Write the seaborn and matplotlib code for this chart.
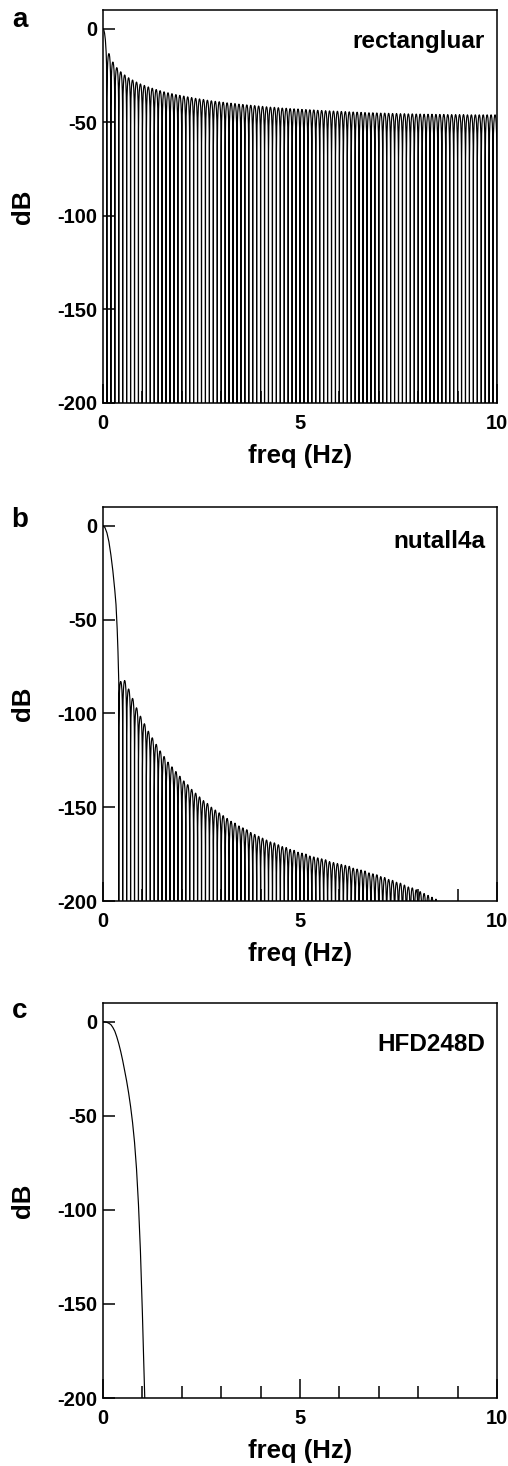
import numpy as np
import pandas as pd
import matplotlib
matplotlib.use("Agg")
import matplotlib.pyplot as plt
import seaborn as sns
from matplotlib.ticker import MultipleLocator

# ---------------- data ----------------
panel_letters = ["a", "b", "c"]
window_names = ["rectangluar", "nutall4a", "HFD248D"]
x_major_ticks = [0, 5, 10]
y_ticks = [0, -50, -100, -150, -200]
y_tick_labels = ["0", "-50", "-100", "-150", "-200"]

lobe_spacing_hz = 0.1  # spacing between sidelobes (Hz)

# (a) rectangular window
rect_main_f = [0.0, 0.02, 0.04, 0.06, 0.08, 0.09, 0.10]
rect_main_db = [0.0, -0.6, -2.4, -5.9, -12.6, -19.2, -240.0]
rect_first_lobe_hz = 0.15
rect_peaks_db = [
    -13.3, -17.8, -20.8, -23.0, -24.7, -26.2, -27.4, -28.5, -29.5, -30.3,
    -31.1, -31.8, -32.5, -33.1, -33.7, -34.2, -34.7, -35.2, -35.6, -36.0,
    -36.4, -36.8, -37.2, -37.5, -37.8, -38.2, -38.5, -38.8, -39.0, -39.3,
    -39.6, -39.8, -40.0, -40.3, -40.5, -40.7, -40.9, -41.1, -41.3, -41.5,
    -41.7, -41.9, -42.0, -42.2, -42.4, -42.5, -42.7, -42.8, -42.9,
    -43.1, -43.2, -43.3, -43.4, -43.6, -43.7, -43.8, -43.9, -44.0, -44.1,
    -44.2, -44.3, -44.4, -44.5, -44.6, -44.7, -44.8, -44.9, -44.9, -45.0,
    -45.1, -45.1, -45.2, -45.3, -45.3, -45.4, -45.4, -45.5, -45.5, -45.6,
    -45.6, -45.7, -45.7, -45.7, -45.8, -45.8, -45.8, -45.9, -45.9, -45.9,
    -45.9, -45.9, -46.0, -46.0, -46.0, -46.0, -46.0, -46.0, -46.0, -46.0,
]

# (b) nutall4a window
nut_main_f = [0.0, 0.05, 0.10, 0.15, 0.20, 0.25, 0.30, 0.33, 0.36, 0.38, 0.40]
nut_main_db = [0.0, -1.0, -3.8, -8.5, -15.5, -24.0, -34.5, -42.0, -55.0, -67.0, -83.0]
nut_first_lobe_hz = 0.45
nut_peaks_db = [
    -83, -82.5, -87, -92, -97, -101.5, -105.5, -109.5, -113, -116.5,
    -120, -123, -126, -128.5, -131, -133.5, -136, -138, -140.5, -142.5,
    -144.5, -146.5, -148, -150, -151.5, -153, -154.5, -156, -157.5, -158.5,
    -160, -161, -162, -163.5, -164.5, -165.5, -166.5, -167.5, -168.5, -169,
    -170, -171, -171.5, -172.5, -173, -174, -174.5, -175, -176, -176.5,
    -177, -177.5, -178, -179, -179.5, -180, -180.5, -181, -181.5, -182.5,
    -183, -183.5, -184, -185, -185.5, -186, -187, -187.5, -188.5, -189,
    -190, -190.5, -191.5, -192.5, -193, -194, -195, -196, -197, -198,
    -199,
]

# (c) HFD248D window (sidelobes below -200 dB, not visible)
hfd_main_f = [0.0, 0.05, 0.10, 0.15, 0.20, 0.25, 0.30, 0.35, 0.40, 0.45, 0.50,
              0.55, 0.60, 0.65, 0.70, 0.75, 0.80, 0.85, 0.90, 0.95, 1.00, 1.03, 1.06]
hfd_main_db = [0.0, -0.05, -0.3, -0.8, -1.5, -3.0, -5.0, -8.0, -11.6, -15.8, -20.6,
               -26.0, -31.5, -37.8, -45.0, -53.5, -64.0, -78.0, -97.0, -122.0, -155.0,
               -178.0, -200.0]

# ---------------- style constants ----------------
NULL_DB = -240.0
LOBE_T = [-0.5, -0.48, -0.45, -0.4, -0.3, -0.2, -0.1, 0.0, 0.1, 0.2, 0.3, 0.4, 0.45, 0.48]
LOBE_SHAPE_DB = [None, -24.0, -16.1, -10.2, -4.6, -1.8, -0.4, 0.0, -0.4, -1.8, -4.6, -10.2, -16.1, -24.0]


def build_spectrum(main_f, main_db, first_lobe, peaks):
    xs = list(main_f)
    ys = list(main_db)
    for k, p in enumerate(peaks):
        c = first_lobe + k * lobe_spacing_hz
        for t, d in zip(LOBE_T, LOBE_SHAPE_DB):
            xs.append(c + t * lobe_spacing_hz)
            ys.append(NULL_DB if d is None else p + d)
    if len(peaks):
        xs.append(first_lobe + (len(peaks) - 0.5) * lobe_spacing_hz)
        ys.append(NULL_DB)
    return pd.DataFrame({"freq": xs, "dB": ys})


spectra = [
    build_spectrum(rect_main_f, rect_main_db, rect_first_lobe_hz, rect_peaks_db),
    build_spectrum(nut_main_f, nut_main_db, nut_first_lobe_hz, nut_peaks_db),
    build_spectrum(hfd_main_f, hfd_main_db, 0.0, []),
]

sns.set_theme(style="ticks", rc={
    "axes.edgecolor": "black", "xtick.color": "black", "ytick.color": "black",
    "text.color": "black", "axes.labelcolor": "black",
})
plt.rcParams["font.family"] = ["Liberation Sans", "DejaVu Sans"]
plt.rcParams["font.weight"] = "bold"
plt.rcParams["axes.labelweight"] = "bold"
plt.rcParams["axes.unicode_minus"] = False

W, H = 508, 1466
fig = plt.figure(figsize=(W / 100, H / 100), dpi=100)

# axes boxes in pixels: (left, top, right, bottom)
boxes = [(103, 10, 497, 403), (103, 507, 497, 901), (103, 1003, 497, 1398)]
letter_baselines = [27, 527, 1018]
name_baselines = [48, 548, 1051]

for i, (l, t, r, b) in enumerate(boxes):
    ax = fig.add_axes([l / W, 1 - b / H, (r - l) / W, (b - t) / H])
    sns.lineplot(data=spectra[i], x="freq", y="dB", sort=False, estimator=None,
                 color="black", linewidth=0.85, ax=ax)
    ax.set_xlim(0, 10)
    ax.set_ylim(-200, 10)
    ax.set_xticks(x_major_ticks)
    ax.set_xticklabels([str(v) for v in x_major_ticks])
    ax.xaxis.set_minor_locator(MultipleLocator(1))
    ax.set_yticks(y_ticks)
    ax.set_yticklabels(y_tick_labels)
    ax.tick_params(axis="x", which="major", direction="in", length=14, width=1.1,
                   top=False, pad=8, labelsize=14.5)
    ax.tick_params(axis="x", which="minor", direction="in", length=8.5, width=1.1, top=False)
    ax.tick_params(axis="y", which="major", direction="in", length=8.5, width=1.1,
                   right=False, pad=4, labelsize=14.5)
    for sp in ax.spines.values():
        sp.set_linewidth(1.1)
        sp.set_color("black")
    ax.set_xlabel("freq (Hz)", fontsize=18.5, fontweight="bold")
    ax.set_ylabel("dB", fontsize=18.5, fontweight="bold")
    ax.xaxis.set_label_coords(0.5, -(444 - 403) / 393)
    ax.yaxis.set_label_coords(-(103 - 35) / 394, 0.5)
    ax.text((485 - l) / (r - l), 1 - (name_baselines[i] - t) / (b - t), window_names[i],
            transform=ax.transAxes, ha="right", va="baseline", fontsize=17.5, fontweight="bold")
    fig.text(20 / W, 1 - letter_baselines[i] / H, panel_letters[i], ha="center", va="baseline",
             fontsize=20, fontweight="bold")

fig.savefig("out.png", dpi=100)
